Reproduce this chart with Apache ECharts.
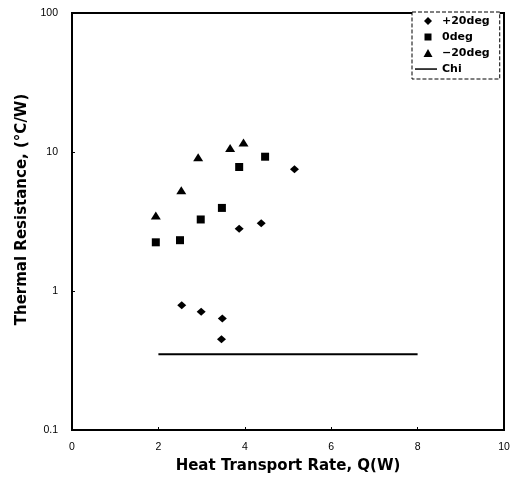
<!DOCTYPE html>
<html><head><meta charset="utf-8">
<script src="https://cdn.jsdelivr.net/npm/echarts@6/dist/echarts.min.js"></script>
<style>html,body{margin:0;padding:0;background:#fff}#c{width:515px;height:479px}</style>
</head><body><div id="c"></div>
<script>
var xTicks = [0, 2, 4, 6, 8, 10];
var yTicks = [0.1, 1, 10, 100];
var plus20Q = [2.54, 2.99, 3.48, 3.46, 3.87, 4.38, 5.15];
var plus20R = [0.79, 0.71, 0.635, 0.45, 2.8, 3.07, 7.5];
var zeroQ = [1.94, 2.5, 2.98, 3.47, 3.87, 4.47];
var zeroR = [2.24, 2.32, 3.27, 3.96, 7.8, 9.25];
var minus20Q = [1.94, 2.53, 2.92, 3.66, 3.97];
var minus20R = [3.49, 5.3, 9.15, 10.7, 11.7];
var chiQ = [2, 8];
var chiR = [0.35, 0.35];

function pairs(xs, ys) { return xs.map(function (x, i) { return [x, ys[i]]; }); }

var font = '"Liberation Sans", Arial, sans-serif';
var wideFont = '"DejaVu Sans", sans-serif';
var ANCH = 'path://M0,0M22,8';
var chart = echarts.init(document.getElementById('c'), null, {renderer: 'canvas'});
chart.setOption({
  animation: false,
  backgroundColor: '#fff',
  grid: {left: 72, right: 11, top: 13, bottom: 48, show: true, borderColor: '#000', borderWidth: 2, backgroundColor: 'transparent'},
  xAxis: {
    type: 'value', min: xTicks[0], max: xTicks[xTicks.length - 1], interval: 2,
    name: 'Heat Transport Rate, Q(W)', nameLocation: 'middle', nameGap: 29,
    nameTextStyle: {fontFamily: wideFont, fontSize: 15, fontWeight: 'bold', color: '#000'},
    axisLine: {lineStyle: {color: '#000', width: 2}},
    axisTick: {inside: true, length: 3, lineStyle: {color: '#000'}},
    axisLabel: {fontFamily: font, fontSize: 10.5, color: '#000', margin: 12},
    splitLine: {show: false}
  },
  yAxis: {
    type: 'log', logBase: 10, min: yTicks[0], max: yTicks[yTicks.length - 1],
    name: 'Thermal Resistance, (°C/W)', nameLocation: 'middle', nameGap: 42, nameRotate: 90,
    nameTextStyle: {fontFamily: wideFont, fontSize: 15, fontWeight: 'bold', color: '#000', padding: [0, 0, 0, 24]},
    axisLine: {lineStyle: {color: '#000', width: 2}},
    axisTick: {inside: true, length: 3, lineStyle: {color: '#000'}},
    axisLabel: {fontFamily: font, fontSize: 10.5, color: '#000', margin: 14,
      formatter: function (v) { return String(+v.toPrecision(3)); }},
    splitLine: {show: false},
    minorTick: {show: false}
  },
  legend: {
    orient: 'vertical', left: 412, top: 12, padding: [2, 10, 3, 3],
    borderColor: '#000', borderWidth: 1, borderType: 'dashed', backgroundColor: '#fff',
    itemWidth: 22, itemHeight: 8, itemGap: 2,
    textStyle: {fontFamily: wideFont, fontSize: 11, fontWeight: 'bold', color: '#000', lineHeight: 14},
    data: [
      {name: '+20deg', icon: ANCH + 'M13,0L17,4L13,8L9,4Z', itemStyle: {color: '#000'}},
      {name: '0deg', icon: ANCH + 'M9.5,0.5L16.5,0.5L16.5,7.5L9.5,7.5Z', itemStyle: {color: '#000'}},
      {name: '\u221220deg', icon: ANCH + 'M13,0L17.5,8L8.5,8Z', itemStyle: {color: '#000'}},
      {name: 'Chi', icon: ANCH + 'M0,3.3L22,3.3L22,4.8L0,4.8Z', itemStyle: {color: '#000'}, lineStyle: {width: 0}}
    ]
  },
  series: [
    {name: '+20deg', type: 'scatter', symbol: 'diamond', symbolSize: [9, 8], itemStyle: {color: '#000', opacity: 1}, data: pairs(plus20Q, plus20R)},
    {name: '0deg', type: 'scatter', symbol: 'rect', symbolSize: 8, itemStyle: {color: '#000', opacity: 1}, data: pairs(zeroQ, zeroR)},
    {name: '\u221220deg', type: 'scatter', symbol: 'triangle', symbolSize: [10, 8], itemStyle: {color: '#000', opacity: 1}, data: pairs(minus20Q, minus20R)},
    {name: 'Chi', type: 'line', symbol: 'none', lineStyle: {color: '#000', width: 2}, itemStyle: {color: '#000'}, data: pairs(chiQ, chiR)}
  ]
});
</script></body></html>
